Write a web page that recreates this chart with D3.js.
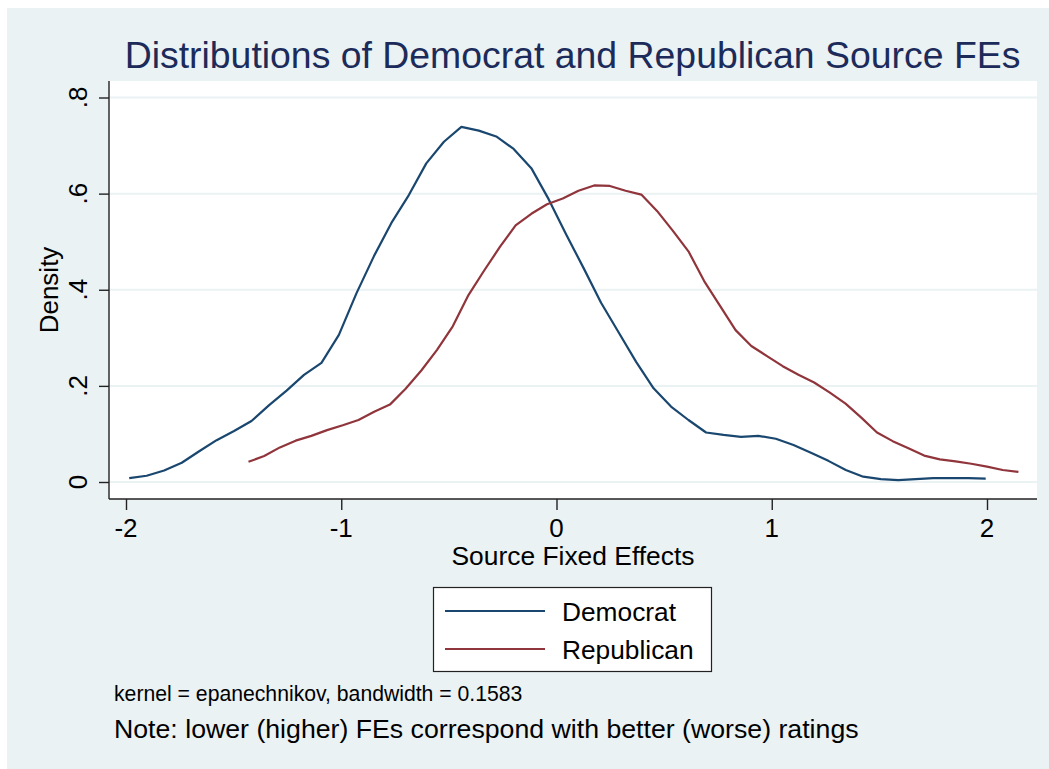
<!DOCTYPE html>
<html>
<head>
<meta charset="utf-8">
<script src="https://cdn.jsdelivr.net/npm/d3@7"></script>
<style>
  body { margin: 0; background: #fff; }
  text { font-family: "Liberation Sans", Arial, Helvetica, sans-serif; }
</style>
</head>
<body>
<div id="chart"></div>
<script>
// kernel density estimates (50 points each)
var demX = [-1.985, -1.904, -1.823, -1.741, -1.660, -1.579, -1.498, -1.417, -1.335, -1.254,
    -1.173, -1.092, -1.011, -0.929, -0.848, -0.767, -0.686, -0.605, -0.523, -0.442,
    -0.361, -0.280, -0.199, -0.117, -0.036, 0.045, 0.126, 0.207, 0.289, 0.370,
    0.451, 0.532, 0.613, 0.695, 0.776, 0.857, 0.938, 1.019, 1.101, 1.182,
    1.263, 1.344, 1.425, 1.507, 1.588, 1.669, 1.750, 1.831, 1.913, 1.994];
var demY = [0.008, 0.013, 0.024, 0.040, 0.064, 0.087, 0.106, 0.127, 0.160, 0.190,
    0.223, 0.248, 0.306, 0.393, 0.470, 0.539, 0.597, 0.663, 0.708, 0.739,
    0.731, 0.719, 0.693, 0.653, 0.588, 0.515, 0.445, 0.373, 0.311, 0.250,
    0.195, 0.157, 0.129, 0.103, 0.098, 0.094, 0.096, 0.090, 0.077, 0.061,
    0.044, 0.025, 0.011, 0.006, 0.004, 0.006, 0.008, 0.008, 0.008, 0.007];

var repX = [-1.431, -1.358, -1.285, -1.212, -1.139, -1.066, -0.993, -0.920, -0.847, -0.774,
    -0.701, -0.628, -0.555, -0.482, -0.409, -0.336, -0.263, -0.190, -0.117, -0.044,
    0.029, 0.102, 0.175, 0.248, 0.321, 0.394, 0.467, 0.540, 0.613, 0.686,
    0.759, 0.832, 0.905, 0.978, 1.051, 1.124, 1.197, 1.270, 1.343, 1.416,
    1.489, 1.562, 1.635, 1.708, 1.781, 1.854, 1.927, 2.000, 2.073, 2.146];
var repY = [0.042, 0.054, 0.072, 0.086, 0.096, 0.108, 0.118, 0.129, 0.146, 0.161,
    0.194, 0.232, 0.275, 0.324, 0.389, 0.440, 0.489, 0.534, 0.558, 0.578,
    0.590, 0.606, 0.617, 0.616, 0.606, 0.598, 0.564, 0.523, 0.480, 0.418,
    0.367, 0.316, 0.283, 0.262, 0.241, 0.223, 0.207, 0.186, 0.163, 0.134,
    0.103, 0.085, 0.070, 0.055, 0.047, 0.043, 0.038, 0.032, 0.025, 0.021];

var xTicks = [-2, -1, 0, 1, 2];
var yTicks = [0, 0.2, 0.4, 0.6, 0.8];
var yTickLabels = ["0", ".2", ".4", ".6", ".8"];
var seriesNames = ["Democrat", "Republican"];

var w = 1049, h = 769;
var plot = {left: 109, top: 81, right: 1037, bottom: 499};
var bg = "#eaf2f3",
    navy = "#1a476f",
    maroon = "#90353b";

var svg = d3.select("#chart").append("svg")
    .attr("width", w)
    .attr("height", h);

// graph region
svg.append("rect")
    .attr("x", 7).attr("y", 8)
    .attr("width", w - 7).attr("height", h - 8)
    .attr("fill", bg);

// plot region
svg.append("rect")
    .attr("x", plot.left).attr("y", plot.top)
    .attr("width", plot.right - plot.left).attr("height", plot.bottom - plot.top)
    .attr("fill", "#fff");

var x = d3.scaleLinear().domain([-2, 2]).range([126, 987]);
var y = d3.scaleLinear().domain([0, 0.8]).range([482, 97.5]);

// gridlines
svg.append("g")
  .selectAll("line")
  .data(yTicks)
  .enter().append("line")
    .attr("x1", plot.left).attr("x2", plot.right)
    .attr("y1", function(d) { return y(d); })
    .attr("y2", function(d) { return y(d); })
    .attr("stroke", bg)
    .attr("stroke-width", 2);

// axes
var yAxis = svg.append("g")
    .attr("transform", "translate(" + plot.left + ",0)")
    .call(d3.axisLeft(y).tickValues(yTicks).tickSize(10).tickFormat(""));
yAxis.select(".domain").attr("d", "M0," + plot.top + "V" + plot.bottom);

var xAxis = svg.append("g")
    .attr("transform", "translate(0," + plot.bottom + ")")
    .call(d3.axisBottom(x).tickValues(xTicks).tickSize(11).tickFormat(""));
xAxis.select(".domain").attr("d", "M" + plot.left + ",0H" + plot.right);

svg.selectAll(".domain, .tick line")
    .attr("stroke", "#222")
    .attr("stroke-width", 1.4);

// y tick labels (rotated, Stata style)
svg.append("g")
  .selectAll("text")
  .data(yTicks)
  .enter().append("text")
    .attr("transform", function(d) { return "translate(87," + y(d) + ") rotate(-90)"; })
    .attr("text-anchor", "middle")
    .attr("font-size", 26)
    .attr("fill", "#000")
    .text(function(d, i) { return yTickLabels[i]; });

// x tick labels
svg.append("g")
  .selectAll("text")
  .data(xTicks)
  .enter().append("text")
    .attr("x", function(d) { return x(d); })
    .attr("y", 537)
    .attr("text-anchor", "middle")
    .attr("font-size", 26)
    .attr("fill", "#000")
    .text(function(d) { return d < 0 ? "-" + Math.abs(d) : d; });

// axis titles
svg.append("text")
    .attr("transform", "translate(58," + ((plot.top + plot.bottom) / 2) + ") rotate(-90)")
    .attr("text-anchor", "middle")
    .attr("font-size", 26)
    .text("Density");

svg.append("text")
    .attr("x", (plot.left + plot.right) / 2)
    .attr("y", 565)
    .attr("text-anchor", "middle")
    .attr("font-size", 26.4)
    .text("Source Fixed Effects");

// title
svg.append("text")
    .attr("x", 572.5)
    .attr("y", 68)
    .attr("text-anchor", "middle")
    .attr("font-size", 37.4)
    .attr("fill", "#1c2b5a")
    .text("Distributions of Democrat and Republican Source FEs");

// density lines
var line = d3.line()
    .x(function(d) { return x(d[0]); })
    .y(function(d) { return y(d[1]); });

var series = [
    {name: seriesNames[0], color: navy, pts: d3.zip(demX, demY)},
    {name: seriesNames[1], color: maroon, pts: d3.zip(repX, repY)}
];

svg.append("g")
  .selectAll("path")
  .data(series)
  .enter().append("path")
    .attr("fill", "none")
    .attr("stroke", function(d) { return d.color; })
    .attr("stroke-width", 2.2)
    .attr("stroke-linejoin", "round")
    .attr("d", function(d) { return line(d.pts); });

// legend
var lg = svg.append("g");
lg.append("rect")
    .attr("x", 433.5).attr("y", 587.5)
    .attr("width", 278).attr("height", 84)
    .attr("fill", "#fff")
    .attr("stroke", "#222")
    .attr("stroke-width", 1.2);

var item = lg.selectAll("g.item")
    .data(series)
  .enter().append("g")
    .attr("class", "item")
    .attr("transform", function(d, i) { return "translate(0," + (611 + i * 38) + ")"; });
item.append("line")
    .attr("x1", 445).attr("x2", 545)
    .attr("stroke", function(d) { return d.color; })
    .attr("stroke-width", 2.2);
item.append("text")
    .attr("x", 562).attr("y", 10)
    .attr("font-size", 26.3)
    .text(function(d) { return d.name; });

// notes
svg.append("text")
    .attr("x", 114).attr("y", 701)
    .attr("font-size", 21.2)
    .text("kernel = epanechnikov, bandwidth = 0.1583");
svg.append("text")
    .attr("x", 114).attr("y", 738)
    .attr("font-size", 26.7)
    .text("Note: lower (higher) FEs correspond with better (worse) ratings");
</script>
</body>
</html>
